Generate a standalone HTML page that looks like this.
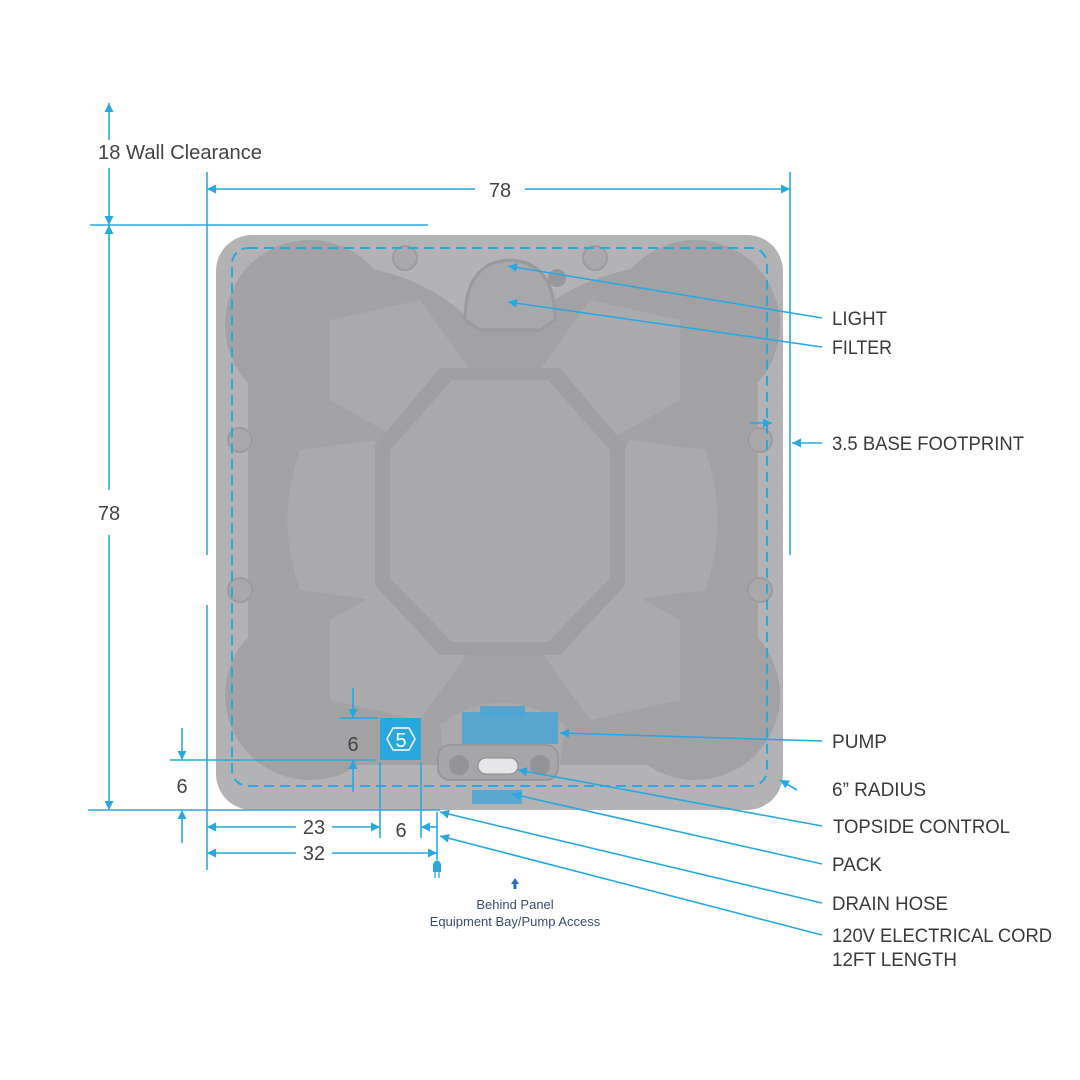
<!DOCTYPE html>
<html><head><meta charset="utf-8"><style>
html,body{margin:0;padding:0;background:#fff;}
svg{display:block;}
text{font-family:"Liberation Sans",sans-serif;}
</style></head><body>
<svg width="1080" height="1080" viewBox="0 0 1080 1080" xmlns="http://www.w3.org/2000/svg">
<defs>
<marker id="a" viewBox="0 0 10 10" refX="10" refY="5" markerWidth="9" markerHeight="9" orient="auto-start-reverse" markerUnits="userSpaceOnUse"><path d="M0,0 L10,5 L0,10 z" fill="#29a8e0"/></marker>
</defs>
<!-- tub -->
<rect x="216" y="235" width="567" height="575" rx="36" fill="#b3b3b6"/>
<!-- well -->
<g fill="#a2a2a5">
<circle cx="310" cy="325" r="85"/><circle cx="695" cy="325" r="85"/>
<circle cx="310" cy="695" r="85"/><circle cx="695" cy="695" r="85"/>
<rect x="248" y="330" width="510" height="370" rx="60"/>
<path d="M330,262 Q420,270 470,320 L530,320 Q580,270 680,262 L680,420 L330,420z"/>
<path d="M330,765 L680,765 L680,600 L330,600z"/>
</g>
<!-- seats lighter -->
<g fill="#aaaaad">
<path d="M300,450 L375,440 L440,520 L375,600 L300,590 Q275,520 300,450z"/>
<path d="M705,450 L630,440 L565,520 L630,600 L705,590 Q730,520 705,450z"/>
<path d="M330,320 L420,300 L470,370 L410,445 L330,400z"/>
<path d="M680,320 L590,300 L540,370 L600,445 L680,400z"/>
<path d="M330,700 L420,720 L470,650 L410,575 L330,620z"/>
<path d="M680,700 L590,720 L540,650 L600,575 L680,620z"/>
<path d="M440,725 Q500,680 565,725 L560,765 L445,765z"/>
</g>
<path d="M440,368 L560,368 L625,445 L625,585 L560,655 L440,655 L375,585 L375,445z" fill="#9f9fa2"/>
<path d="M452,380 L548,380 L610,450 L610,578 L548,642 L452,642 L390,578 L390,450z" fill="#a9a9ac"/>
<!-- light/filter housing -->
<path d="M465,320 Q465,262 510,260 Q555,262 555,320 L540,330 L480,330z" fill="#a8a8ab" stroke="#9a9a9d" stroke-width="3"/>
<g fill="#a9a9ac" stroke="#9c9c9f" stroke-width="2">
<circle cx="405" cy="258" r="12"/><circle cx="595" cy="258" r="12"/>
<circle cx="240" cy="440" r="12"/><circle cx="760" cy="440" r="12"/>
<circle cx="240" cy="590" r="12"/><circle cx="760" cy="590" r="12"/>
</g>
<circle cx="557" cy="278" r="9" fill="#98989b"/>
<!-- bottom equipment -->
<rect x="438" y="745" width="120" height="35" rx="12" fill="#a6a6a9" stroke="#98989b" stroke-width="2"/>
<circle cx="459" cy="765" r="10" fill="#949497"/><circle cx="540" cy="765" r="10" fill="#949497"/>
<rect x="478" y="758" width="40" height="16" rx="8" fill="#e6e6e8" stroke="#888" stroke-width="1"/>
<rect x="462" y="712" width="96" height="32" fill="#4aa6d6" opacity="0.85"/>
<rect x="480" y="706" width="45" height="10" fill="#4aa6d6" opacity="0.85"/>
<rect x="472" y="790" width="50" height="14" fill="#4aa6d6" opacity="0.85"/>
<!-- dashed footprint -->
<rect x="232" y="248" width="535" height="538" rx="16" fill="none" stroke="#29a8e0" stroke-width="2" stroke-dasharray="10,6"/>
<!-- 5 box -->
<rect x="380" y="718" width="41" height="42" fill="#29a8e0"/>
<polygon points="387,739 393,728 409,728 415,739 409,750 393,750" fill="none" stroke="#fff" stroke-width="1.5"/>
<text x="401" y="747" font-size="20" fill="#fff" text-anchor="middle">5</text>

<g stroke="#29a8e0" stroke-width="1.6" fill="none">
<line x1="109" y1="140" x2="109" y2="103" marker-end="url(#a)"/>
<line x1="109" y1="168" x2="109" y2="225" marker-end="url(#a)"/>
<line x1="90" y1="225" x2="428" y2="225"/>
<line x1="207" y1="172" x2="207" y2="555"/>
<line x1="207" y1="605" x2="207" y2="870"/>
<line x1="790" y1="172" x2="790" y2="555"/>
<line x1="475" y1="189" x2="207" y2="189" marker-end="url(#a)"/>
<line x1="525" y1="189" x2="790" y2="189" marker-end="url(#a)"/>
<line x1="109" y1="490" x2="109" y2="225" marker-end="url(#a)"/>
<line x1="109" y1="535" x2="109" y2="810" marker-end="url(#a)"/>
<line x1="88" y1="810" x2="440" y2="810"/>
<line x1="182" y1="728" x2="182" y2="760" marker-end="url(#a)"/>
<line x1="182" y1="843" x2="182" y2="810" marker-end="url(#a)"/>
<line x1="170" y1="760" x2="375" y2="760"/>
<line x1="353" y1="688" x2="353" y2="718" marker-end="url(#a)"/>
<line x1="353" y1="792" x2="353" y2="760" marker-end="url(#a)"/>
<line x1="340" y1="718" x2="378" y2="718"/>
<line x1="380" y1="762" x2="380" y2="838"/>
<line x1="421" y1="762" x2="421" y2="838"/>
<line x1="296" y1="827" x2="207" y2="827" marker-end="url(#a)"/>
<line x1="332" y1="827" x2="380" y2="827" marker-end="url(#a)"/>
<line x1="437" y1="827" x2="421" y2="827" marker-end="url(#a)"/>
<line x1="296" y1="853" x2="207" y2="853" marker-end="url(#a)"/>
<line x1="332" y1="853" x2="437" y2="853" marker-end="url(#a)"/>
<line x1="437" y1="812" x2="437" y2="860"/>
<line x1="822" y1="318" x2="508" y2="266" marker-end="url(#a)"/>
<line x1="822" y1="347" x2="508" y2="302" marker-end="url(#a)"/>
<line x1="822" y1="443" x2="792" y2="443" marker-end="url(#a)"/>
<line x1="750" y1="423" x2="772" y2="423" marker-end="url(#a)"/>
<line x1="822" y1="741" x2="560" y2="733" marker-end="url(#a)"/>
<line x1="797" y1="790" x2="780" y2="780" marker-end="url(#a)"/>
<line x1="822" y1="826" x2="518" y2="770" marker-end="url(#a)"/>
<line x1="822" y1="864" x2="512" y2="794" marker-end="url(#a)"/>
<line x1="822" y1="903" x2="440" y2="812" marker-end="url(#a)"/>
<line x1="822" y1="935" x2="440" y2="836" marker-end="url(#a)"/>
</g>
<path d="M433,864 L441,864 L441,872 L433,872z M433,864 Q437,857 441,864" fill="#29a8e0"/>
<line x1="435" y1="872" x2="435" y2="878" stroke="#29a8e0" stroke-width="1.3"/>
<line x1="439" y1="872" x2="439" y2="878" stroke="#29a8e0" stroke-width="1.3"/>
<path d="M515,878 L519,884 L516.5,884 L516.5,889 L513.5,889 L513.5,884 L511,884z" fill="#2a6db0"/>

<g fill="#444" font-size="20">
<text x="98" y="159" textLength="164" lengthAdjust="spacingAndGlyphs">18 Wall Clearance</text>
<text x="500" y="197" text-anchor="middle">78</text>
<text x="109" y="520" text-anchor="middle">78</text>
<text x="182" y="793" text-anchor="middle">6</text>
<text x="353" y="751" text-anchor="middle">6</text>
<text x="314" y="834" text-anchor="middle">23</text>
<text x="401" y="837" text-anchor="middle">6</text>
<text x="314" y="860" text-anchor="middle">32</text>
</g>
<g fill="#3a3a3a" font-size="19.5" lengthAdjust="spacingAndGlyphs">
<text x="832" y="325" textLength="55" lengthAdjust="spacingAndGlyphs">LIGHT</text>
<text x="832" y="354" textLength="60" lengthAdjust="spacingAndGlyphs">FILTER</text>
<text x="832" y="450" textLength="192" lengthAdjust="spacingAndGlyphs">3.5 BASE FOOTPRINT</text>
<text x="832" y="748" textLength="55" lengthAdjust="spacingAndGlyphs">PUMP</text>
<text x="832" y="796" textLength="94" lengthAdjust="spacingAndGlyphs">6” RADIUS</text>
<text x="833" y="833" textLength="177" lengthAdjust="spacingAndGlyphs">TOPSIDE CONTROL</text>
<text x="832" y="871" textLength="50" lengthAdjust="spacingAndGlyphs">PACK</text>
<text x="832" y="910" textLength="116" lengthAdjust="spacingAndGlyphs">DRAIN HOSE</text>
<text x="832" y="942" textLength="220" lengthAdjust="spacingAndGlyphs">120V ELECTRICAL CORD</text>
<text x="832" y="966" textLength="125" lengthAdjust="spacingAndGlyphs">12FT LENGTH</text>
</g>
<g fill="#3a4d6e" font-size="13" text-anchor="middle">
<text x="515" y="909">Behind Panel</text>
<text x="515" y="926">Equipment Bay/Pump Access</text>
</g>
</svg>
</body></html>
